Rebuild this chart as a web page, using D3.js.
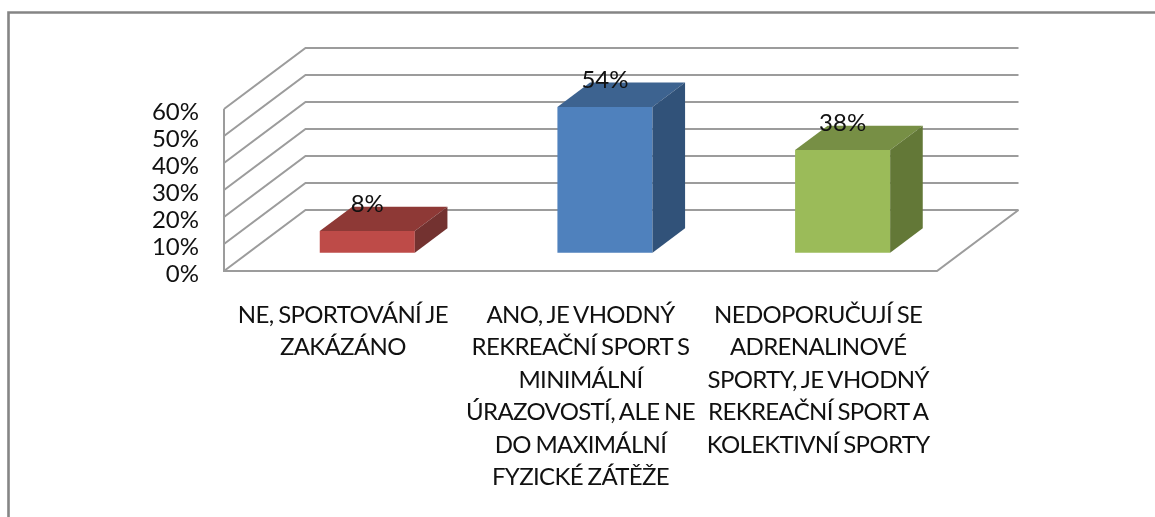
<!DOCTYPE html>
<html>
<head>
<meta charset="utf-8">
<script src="https://cdn.jsdelivr.net/npm/d3@7"></script>
<style>
  html, body { margin: 0; padding: 0; background: #fff; overflow: hidden; }
  svg { display: block; filter: blur(0.5px); }
  text { font-family: Lato, "Open Sans", sans-serif; fill: #111; }
  .grid { stroke: #9c9c9c; stroke-width: 2; fill: none; }
  #xlabels text { letter-spacing: -0.65px; word-spacing: -0.8px; }
</style>
</head>
<body>
<div id="chart"></div>
<script>
var w = 1155;
var h = 517;

// values
var categories = ["ne", "ano", "nedoporucuji"];
var values = [8, 54, 38];
var valueLabels = ["8%", "54%", "38%"];
var tickValues = [0, 10, 20, 30, 40, 50, 60];
var labelLines = [
  ["NE, SPORTOVÁNÍ JE", "ZAKÁZÁNO"],
  ["ANO, JE VHODNÝ", "REKREAČNÍ SPORT S", "MINIMÁLNÍ", "ÚRAZOVOSTÍ, ALE NE", "DO MAXIMÁLNÍ", "FYZICKÉ ZÁTĚŽE"],
  ["NEDOPORUČUJÍ SE", "ADRENALINOVÉ", "SPORTY, JE VHODNÝ", "REKREAČNÍ SPORT A", "KOLEKTIVNÍ SPORTY"]
];
var frontColors = ["#be4b48", "#4f81bd", "#9bbb59"];
var topColors = ["#8e3936", "#3d6390", "#778f45"];
var sideColors = ["#733230", "#315279", "#637837"];

var fontSize = 24;
var depthX = 81.5; // how far the back wall is shifted from the front plane
var depthY = -61;

var svg = d3.select("#chart")
            .append("svg")
            .attr("width", w)
            .attr("height", h);

svg.append("rect").attr("width", w).attr("height", h).attr("fill", "#fff");

// outer frame, only top and left are in the crop
svg.append("path")
   .attr("d", d3.line()([[8.5, h + 5], [8.5, 12.5], [w + 5, 12.5]]))
   .attr("fill", "none")
   .attr("stroke", "#858585")
   .attr("stroke-width", 2.6);

var x = d3.scaleBand()
          .domain(categories)
          .range([224, 937])
          .paddingInner(0.6)
          .paddingOuter(0.3);

var y = d3.scaleLinear()
          .domain([0, 60])
          .range([271, 109]);

var line = d3.line();

// back wall + side wall lines
var grid = svg.append("g").attr("id", "grid");

grid.selectAll("path.back")
    .data(tickValues)
    .enter()
    .append("path")
    .attr("class", "grid back")
    .attr("d", function (d) {
      return line([
        [224, y(d)],
        [224 + depthX, y(d) + depthY],
        [937 + depthX, y(d) + depthY]
      ]);
    });

// floor
grid.append("path")
    .attr("class", "grid")
    .attr("d", line([
      [224, y(60)],
      [224, y(0)],
      [937, y(0)],
      [937 + depthX, y(0) + depthY]
    ]));

// bars sit in the middle of the floor depth
var gap = 0.3;
var barDepth = 0.4;
var offX = depthX * gap;
var offY = depthY * gap;
var dx = depthX * barDepth;
var dy = depthY * barDepth;

var bars = svg.append("g")
              .attr("id", "bars")
              .selectAll("g")
              .data(categories)
              .enter()
              .append("g");

function barBox(d, i) {
  var left = x(d) + offX;
  return {
    left: left,
    right: left + x.bandwidth(),
    top: y(values[i]) + offY,
    bottom: y(0) + offY
  };
}

// front
bars.append("path")
    .attr("fill", function (d, i) { return frontColors[i]; })
    .attr("d", function (d, i) {
      var b = barBox(d, i);
      return line([[b.left, b.top], [b.right, b.top], [b.right, b.bottom], [b.left, b.bottom]]) + "Z";
    });

// top
bars.append("path")
    .attr("fill", function (d, i) { return topColors[i]; })
    .attr("d", function (d, i) {
      var b = barBox(d, i);
      return line([[b.left, b.top], [b.left + dx, b.top + dy], [b.right + dx, b.top + dy], [b.right, b.top]]) + "Z";
    });

// side
bars.append("path")
    .attr("fill", function (d, i) { return sideColors[i]; })
    .attr("d", function (d, i) {
      var b = barBox(d, i);
      return line([[b.right, b.top], [b.right + dx, b.top + dy], [b.right + dx, b.bottom + dy], [b.right, b.bottom]]) + "Z";
    });

// value labels
bars.append("text")
    .attr("x", function (d, i) { var b = barBox(d, i); return (b.left + b.right) / 2; })
    .attr("y", function (d, i) { return barBox(d, i).top - 19; })
    .attr("text-anchor", "middle")
    .attr("font-size", fontSize)
    .text(function (d, i) { return valueLabels[i]; });

// y axis labels
var yAxis = d3.axisLeft(y)
              .tickValues(tickValues)
              .tickSize(0)
              .tickPadding(25)
              .tickFormat(function (d) { return d + "%"; });

var axisG = svg.append("g")
               .attr("id", "yaxis")
               .attr("transform", "translate(224,0)")
               .call(yAxis);

axisG.select(".domain").remove();
axisG.selectAll("text")
     .attr("dy", "10.7px")
     .attr("font-size", fontSize)
     .attr("font-family", null)
     .attr("fill", null);

// category labels, wrapped by hand like in the picture
var labels = svg.append("g")
                .attr("id", "xlabels")
                .selectAll("text")
                .data(categories)
                .enter()
                .append("text")
                .attr("text-anchor", "middle")
                .attr("font-size", fontSize);

labels.selectAll("tspan")
      .data(function (d, i) {
        return labelLines[i].map(function (t) { return { cat: d, text: t }; });
      })
      .enter()
      .append("tspan")
      .attr("x", function (d) { return x(d.cat) + x.bandwidth() / 2; })
      .attr("y", function (d, i) { return 323 + i * 32.4; })
      .text(function (d) { return d.text; });
</script>
</body>
</html>
